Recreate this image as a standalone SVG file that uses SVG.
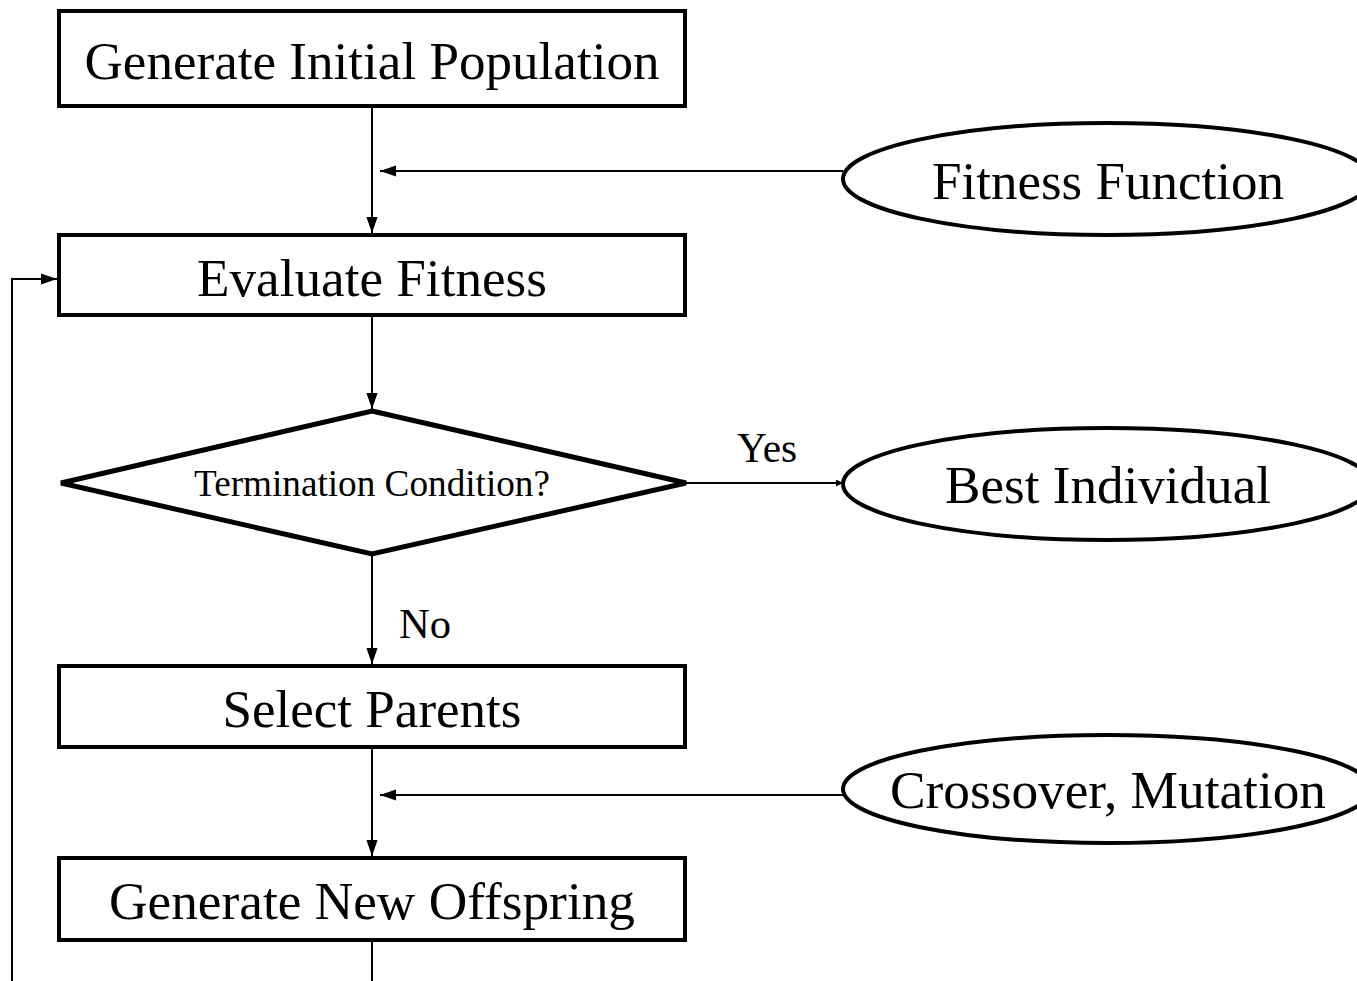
<svg xmlns="http://www.w3.org/2000/svg" width="1357" height="981" viewBox="0 0 1357 981">
  <style>
    .box { fill: #fff; stroke: #000; stroke-width: 4; }
    .oval { fill: #fff; stroke: #000; stroke-width: 4; }
    .diamond { fill: #fff; stroke: #000; stroke-width: 5; stroke-linejoin: miter; }
    .edge { fill: none; stroke: #000; stroke-width: 2; }
    text { font-family: "Liberation Serif", "Times New Roman", serif; fill: #000; }
    .big { font-size: 53px; }
    .lbl { font-size: 42px; }
  </style>
  <defs>
    <marker id="arrow" viewBox="0 0 10 10" refX="10" refY="5" markerWidth="7" markerHeight="7" markerUnits="userSpaceOnUse" orient="auto">
      <path d="M0,0 L10,5 L0,10 Z" fill="#000"/>
    </marker>
    <marker id="arrowBig" viewBox="0 0 10 10" refX="10" refY="5" markerWidth="16" markerHeight="16" markerUnits="userSpaceOnUse" orient="auto">
      <path d="M0,1.5 L10,5 L0,8.5 Z" fill="#000"/>
    </marker>
  </defs>

  <rect width="1357" height="981" fill="#fff"/>

  <g id="connectors">
    <line class="edge" x1="372" y1="106" x2="372" y2="233" marker-end="url(#arrowBig)"/>
    <line class="edge" x1="843" y1="171" x2="380" y2="171" marker-end="url(#arrowBig)"/>
    <line class="edge" x1="372" y1="315" x2="372" y2="409" marker-end="url(#arrowBig)"/>
    <line class="edge" x1="686" y1="483" x2="843" y2="483" marker-end="url(#arrow)"/>
    <line class="edge" x1="372" y1="554" x2="372" y2="664" marker-end="url(#arrowBig)"/>
    <line class="edge" x1="372" y1="747" x2="372" y2="856" marker-end="url(#arrowBig)"/>
    <line class="edge" x1="843" y1="795" x2="380" y2="795" marker-end="url(#arrowBig)"/>
    <line class="edge" x1="372" y1="940" x2="372" y2="981"/>
    <polyline class="edge" points="12,981 12,279 57,279" marker-end="url(#arrowBig)"/>
    <text class="lbl" x="767" y="462" text-anchor="middle" textLength="60" lengthAdjust="spacingAndGlyphs">Yes</text>
    <text class="lbl" x="425" y="638" text-anchor="middle" textLength="52" lengthAdjust="spacingAndGlyphs">No</text>
  </g>

  <g id="init">
    <rect class="box" x="59" y="11" width="626" height="95"/>
    <text class="big" x="372" y="79" text-anchor="middle" textLength="575" lengthAdjust="spacingAndGlyphs">Generate Initial Population</text>
  </g>

  <g id="fitness-function">
    <ellipse class="oval" cx="1107" cy="179" rx="264" ry="56"/>
    <text class="big" x="1108" y="199" text-anchor="middle" textLength="352" lengthAdjust="spacingAndGlyphs">Fitness Function</text>
  </g>

  <g id="evaluate">
    <rect class="box" x="59" y="235" width="626" height="80"/>
    <text class="big" x="372" y="296" text-anchor="middle" textLength="350" lengthAdjust="spacingAndGlyphs">Evaluate Fitness</text>
  </g>

  <g id="termination">
    <polygon class="diamond" points="372,411 686,483 372,554 61,483"/>
    <text x="372" y="496" text-anchor="middle" font-size="37" textLength="356" lengthAdjust="spacingAndGlyphs">Termination Condition?</text>
  </g>

  <g id="best">
    <ellipse class="oval" cx="1107" cy="484" rx="264" ry="56"/>
    <text class="big" x="1108" y="503" text-anchor="middle" textLength="326" lengthAdjust="spacingAndGlyphs">Best Individual</text>
  </g>

  <g id="select">
    <rect class="box" x="59" y="666" width="626" height="81"/>
    <text class="big" x="372" y="727" text-anchor="middle" textLength="299" lengthAdjust="spacingAndGlyphs">Select Parents</text>
  </g>

  <g id="operators">
    <ellipse class="oval" cx="1107" cy="789" rx="264" ry="54"/>
    <text class="big" x="1108" y="808" text-anchor="middle" textLength="436" lengthAdjust="spacingAndGlyphs">Crossover, Mutation</text>
  </g>

  <g id="offspring">
    <rect class="box" x="59" y="858" width="626" height="82"/>
    <text class="big" x="372" y="919" text-anchor="middle" textLength="526" lengthAdjust="spacingAndGlyphs">Generate New Offspring</text>
  </g>
</svg>
